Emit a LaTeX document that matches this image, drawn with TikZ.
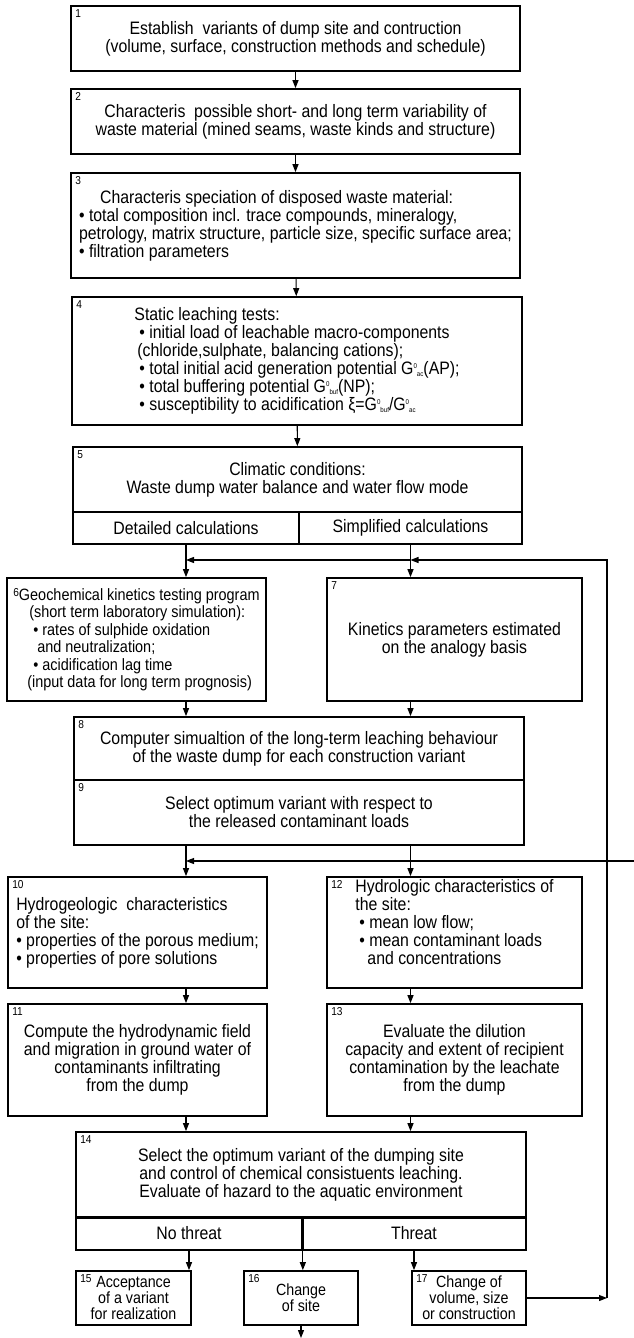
\documentclass[tikz,border=0pt]{standalone}
\usepackage{fontspec}
\setmainfont{Liberation Sans}[FakeStretch=0.88]
\usetikzlibrary{arrows.meta}
\newcommand{\stagenumfont}{\fontsize{11.5}{11.5}\selectfont}
% potential with a small 0 above and an index below
\newcommand{\potG}[1]{G\raisebox{6pt}{\fontsize{7}{7}\selectfont 0}\raisebox{-2pt}{\fontsize{7}{7}\selectfont #1}}

\begin{document}
\begin{tikzpicture}[x=1pt,y=-1pt,
	font=\fontsize{18}{18}\selectfont,
	stage/.style={rectangle,draw,line width=1.7pt,inner sep=2pt,align=center},
	smallstage/.style={stage,minimum width=115pt,minimum height=54pt,font=\fontsize{16.2}{16}\selectfont},
	stagenum/.style={anchor=north west,inner xsep=5pt,inner ysep=4pt,font=\stagenumfont},
	flow/.style={line width=1.1pt,-{Triangle[length=8pt,width=6pt]}},
	divider/.style={line width=2.6pt}]

	\useasboundingbox (0,0) rectangle (634,1338);

	% stages 1 to 5, one below the other
	\node[stage,minimum width=449pt,minimum height=65pt] (b1) at (295.5,38.5)
		{Establish\ \ variants of dump site and contruction\\(volume, surface, construction methods and schedule)};
	\node[stage,minimum width=449pt,minimum height=65pt] (b2) at (295.5,121.5)
		{Characteris\ \ possible short- and long term variability of\\waste material (mined seams, waste kinds and structure)};
	\node[stage,align=left,minimum width=449pt,minimum height=105pt] (b3) at (295.5,225.5)
		{\hspace*{21pt}Characteris speciation of disposed waste material:\\
		 \textbullet{} total composition incl. trace compounds, mineralogy,\\
		 petrology, matrix structure, particle size, specific surface area;\\
		 \textbullet{} filtration parameters};
	\node[stage,align=left,minimum width=450pt,minimum height=128pt] (b4) at (297,361)
		{Static leaching tests:\\
		 \hspace*{5pt}\textbullet{} initial load of leachable macro-components\\
		 \hspace*{3pt}(chloride,sulphate, balancing cations);\\
		 \hspace*{5pt}\textbullet{} total initial acid generation potential \potG{ac}(AP);\\
		 \hspace*{5pt}\textbullet{} total buffering potential \potG{buf}(NP);\\
		 \hspace*{5pt}\textbullet{} susceptibility to acidification ξ=\potG{buf}/\potG{ac}};
	\node[stage,minimum width=449pt,minimum height=65pt] (b5) at (297.5,479.5)
		{Climatic conditions:\\Waste dump water balance and water flow mode};
	% the two ways of calculation under stage 5
	\node[stage,minimum width=226pt,minimum height=32pt] (b5l) at (186,528) {Detailed calculations};
	\node[stage,minimum width=223pt,minimum height=32pt] (b5r) at (410.5,528) {Simplified calculations};

	% kinetics, stages 6 and 7
	\node[stage,align=left,minimum width=259pt,minimum height=123pt,font=\fontsize{16.4}{17.5}\selectfont] (b6) at (136.5,639.5)
		{\raisebox{4pt}{\stagenumfont 6}Geochemical kinetics testing program\\
		 \hspace*{16pt}(short term laboratory simulation):\\
		 \hspace*{20pt}\textbullet{} rates of sulphide oxidation\\
		 \hspace*{24pt}and neutralization;\\
		 \hspace*{20pt}\textbullet{} acidification lag time\\
		 \hspace*{14pt}(input data for long term prognosis)};
	\node[stage,minimum width=255pt,minimum height=123pt] (b7) at (454.5,639.5)
		{Kinetics parameters estimated\\on the analogy basis};

	% simulation and selection, stages 8 and 9
	\node[stage,minimum width=450pt,minimum height=63pt] (b8) at (299,748.5)
		{Computer simualtion of the long-term leaching behaviour\\of the waste dump for each construction variant};
	\node[stage,minimum width=450pt,minimum height=65pt] (b9) at (299,812.5)
		{Select optimum variant with respect to\\the released contaminant loads};

	% site characteristics, stages 10 to 13
	\node[stage,align=left,minimum width=259pt,minimum height=111pt] (b10) at (137.5,932.5)
		{Hydrogeologic\ \ characteristics\\of the site:\\
		 \textbullet{} properties of the porous medium;\\
		 \textbullet{} properties of pore solutions};
	\node[stage,align=left,minimum width=255pt,minimum height=111pt] (b12) at (454.5,932.5)
		{Hydrologic characteristics of\\the site:\\
		 \hspace*{4pt}\textbullet{} mean low flow;\\
		 \hspace*{4pt}\textbullet{} mean contaminant loads\\
		 \hspace*{12pt}and concentrations\\[4pt]};
	\node[stage,minimum width=259pt,minimum height=112pt] (b11) at (137.5,1060)
		{Compute the hydrodynamic field\\and migration in ground water of\\contaminants infiltrating\\from the dump};
	\node[stage,minimum width=255pt,minimum height=112pt] (b13) at (454.5,1060)
		{Evaluate the dilution\\capacity and extent of recipient\\contamination by the leachate\\from the dump};

	% final choice, stage 14, and its outcomes
	\node[stage,minimum width=450pt,minimum height=85pt] (b14) at (301,1174.5)
		{Select the optimum variant of the dumping site\\and control of chemical consistuents leaching.\\Evaluate of hazard to the aquatic environment};
	\node[stage,minimum width=226pt,minimum height=33pt] (b14l) at (189,1233.5) {No threat};
	\node[stage,minimum width=224pt,minimum height=33pt] (b14r) at (414,1233.5) {Threat};
	\node[smallstage] (b15) at (133.5,1298) {Acceptance\\of a variant\\for realization};
	\node[smallstage,minimum width=114pt] (b16) at (301,1298) {Change\\of site};
	\node[smallstage,minimum width=114pt] (b17) at (469,1298) {Change of\\volume, size\\or construction};

	\draw[divider] (b14.south west) -- (b14.south east);
	\draw[divider] (b14l.north east) -- (b14l.south east);

	% stage numbers in the corners
	\node[stagenum] (n1) at (b1.north west) {1};
	\node[stagenum] (n2) at (b2.north west) {2};
	\node[stagenum] (n3) at (b3.north west) {3};
	\node[stagenum] (n4) at (b4.north west) {4};
	\node[stagenum] (n5) at (b5.north west) {5};
	\node[stagenum] (n7) at (b7.north west) {7};
	\node[stagenum] (n8) at (b8.north west) {8};
	\node[stagenum] (n9) at (b9.north west) {9};
	\node[stagenum] (n10) at (b10.north west) {10};
	\node[stagenum] (n11) at (b11.north west) {11};
	\node[stagenum] (n12) at (b12.north west) {12};
	\node[stagenum] (n13) at (b13.north west) {13};
	\node[stagenum] (n14) at (b14.north west) {14};
	\node[stagenum] (n15) at (b15.north west) {15};
	\node[stagenum] (n16) at (b16.north west) {16};
	\node[stagenum] (n17) at (b17.north west) {17};

	% corners of the feedback lines
	\coordinate (jL) at (186,560);
	\coordinate (jR) at (410.5,560);
	\coordinate (cTR) at (607,560);
	\coordinate (cBR) at (607,1298);
	\coordinate (inR) at (634,861);
	\coordinate (kL) at (186,861);
	\coordinate (outB) at (301,1338);

	\path[flow]
		(b1) edge (b2)
		(b2) edge (b3)
		(b3) edge (b4)
		(b4) edge (b5)
		% edges down the two columns
		;
	\draw[flow] (b5l.south) -- (b5l.south |- b6.north);
	\draw[flow] (b5r.south) -- (b5r.south |- b7.north);
	\draw[flow] (b6.south -| b5l) -- (b8.north -| b5l);
	\draw[flow] (b7.south -| b5r) -- (b8.north -| b5r);
	\draw[flow] (b9.south -| b5l) -- (b10.north -| b5l);
	\draw[flow] (b9.south -| b5r) -- (b12.north -| b5r);
	\draw[flow] (b10.south -| b5l) -- (b11.north -| b5l);
	\draw[flow] (b12.south -| b5r) -- (b13.north -| b5r);
	\draw[flow] (b11.south -| b5l) -- (b14.north -| b5l);
	\draw[flow] (b13.south -| b5r) -- (b14.north -| b5r);
	\draw[flow] (b14l.south) -- (b14l.south |- b15.north);
	\draw[flow] (b14l.south east) -- (b14l.south east |- b16.north);
	\draw[flow] (b14r.south) -- (b14r.south |- b17.north);
	\draw[flow] (b16.south) -- (outB);

	% feedback from stage 17 and from outside
	\draw[flow] (b17.east) -- (cBR);
	\draw[flow] (cBR) -- (cTR) -- (jR);
	\draw[flow] (jR) -- (jL);
	\draw[flow] (inR) -- (kL);

\end{tikzpicture}
\end{document}
